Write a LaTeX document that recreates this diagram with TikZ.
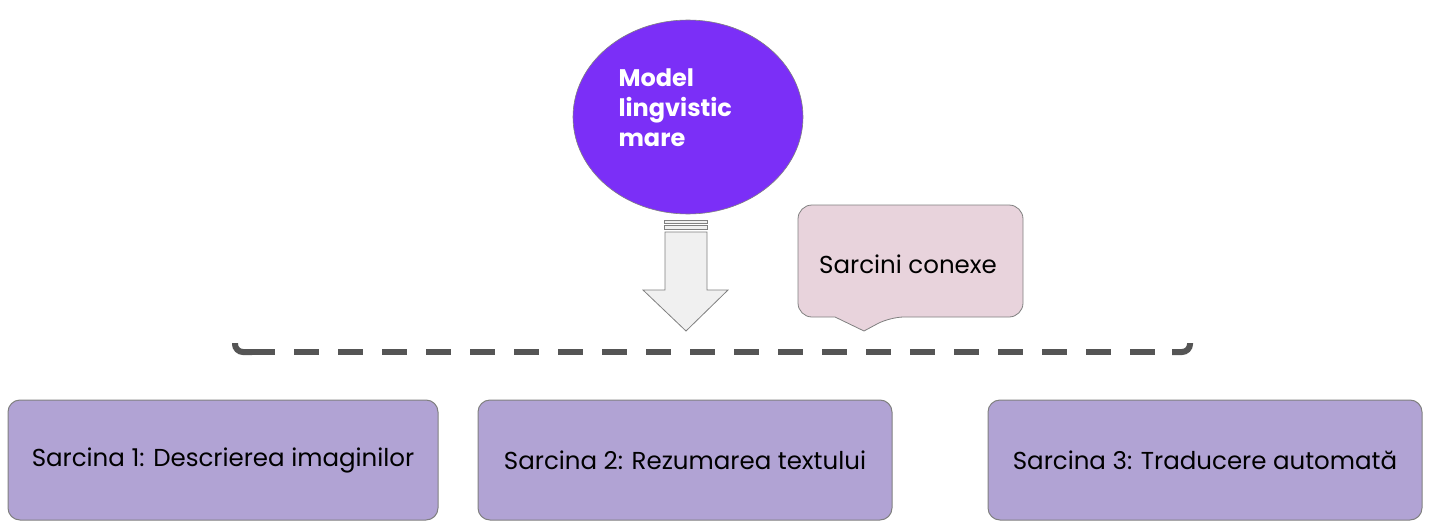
\documentclass[tikz,border=0pt]{standalone}
\usepackage{fontspec}
\setmainfont{Poppins}
\usetikzlibrary{shapes.geometric}
\definecolor{violet}{HTML}{7B2FF7}
\definecolor{lilac}{HTML}{B1A3D4}
\definecolor{pinkish}{HTML}{E8D3DC}
\definecolor{darkgray}{HTML}{555555}
\begin{document}
\begin{tikzpicture}[x=1pt,y=-1pt]
\tikzset{task/.style={draw=gray,fill=lilac,rounded corners=12pt,minimum width=430pt,minimum height=120pt,font=\fontsize{24.5}{28}\selectfont,line width=1pt}}
\useasboundingbox (0,0) rectangle (1435,530);
\node[draw=gray,fill=violet,ellipse,minimum width=230pt,minimum height=194pt,line width=0.6pt] (model) at (688,117) {};
\node[text=white,font=\bfseries\fontsize{24}{30}\selectfont,align=left,anchor=west] (modeltext) at (615,108) {Model\\lingvistic\\mare};
\draw[draw=gray,fill=gray!12,line width=0.8pt] (664,220) rectangle (707,223);
\draw[draw=gray,fill=gray!12,line width=0.8pt] (664,225) rectangle (707,229);
\draw[draw=gray,fill=gray!12,line width=0.8pt] (665,232) -- (707,232) -- (707,290) -- (728,290) -- (686,331) -- (643,290) -- (665,290) -- cycle;
\draw[draw=gray,fill=pinkish,line width=0.8pt,rounded corners=14pt] (835,317) -- (798,317) -- (798,205) -- (1023,205) -- (1023,317) -- (890,317)[sharp corners] -- (864,331) -- (835,317);
\node[font=\fontsize{24.5}{28}\selectfont] (conexe) at (908,264) {Sarcini conexe};
\draw[darkgray,line width=6pt,dash pattern=on 25pt off 19pt] (250,352) -- (1175,352);
\draw[darkgray,line width=6pt,rounded corners=8pt] (235,343) -- (235,352) -- (252,352);
\draw[darkgray,line width=6pt,rounded corners=8pt] (1190,343) -- (1190,352) -- (1172,352);
\node[task,minimum width=430pt] (s1) at (223,460) {Sarcina 1: Descrierea imaginilor};
\node[task,minimum width=414pt] (s2) at (685,460) {Sarcina 2: Rezumarea textului};
\node[task,minimum width=434pt] (s3) at (1205,460) {Sarcina 3: Traducere automată};
\end{tikzpicture}
\end{document}
